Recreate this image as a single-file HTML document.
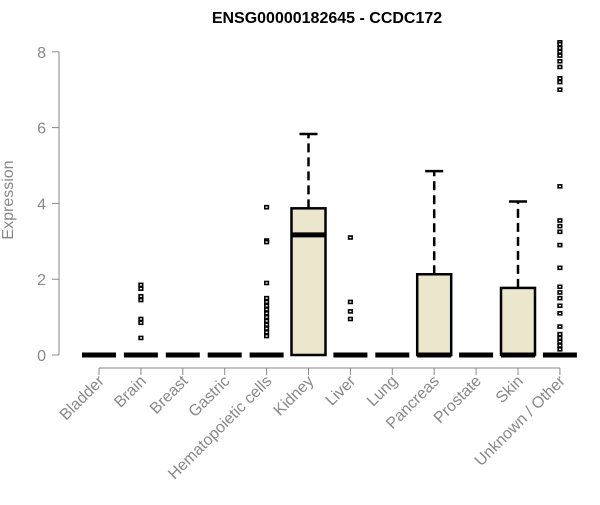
<!DOCTYPE html>
<html><head><meta charset="utf-8"><style>
body{margin:0;background:#fff}
svg{font-family:"Liberation Sans",sans-serif}
</style></head><body>
<svg id="chart" width="600" height="500" viewBox="0 0 600 500">
<text x="327" y="23" text-anchor="middle" font-weight="bold" font-size="16">ENSG00000182645 - CCDC172</text>
<text transform="translate(13,200) rotate(-90)" text-anchor="middle" font-size="16" fill="#888">Expression</text>
<g id="axes"></g><g id="marks"></g>
</svg>
<script>
const categories=["Bladder","Brain","Breast","Gastric","Hematopoietic cells","Kidney","Liver","Lung","Pancreas","Prostate","Skin","Unknown / Other"];
const q1=[0,0,0,0,0,0,0,0,0,0,0,0];
const medians=[0,0,0,0,0,3.17,0,0,0,0,0,0];
const q3=[0,0,0,0,0,3.87,0,0,2.13,0,1.77,0];
const whiskerHigh=[0,0,0,0,0,5.83,0,0,4.85,0,4.05,0];
const outliers=[[],[1.85,1.75,1.55,1.45,0.95,0.85,0.45],[],[],[3.9,3.02,2.98,1.9,1.5,1.4,1.3,1.2,1.1,1.0,0.9,0.8,0.7,0.6,0.5],[],[3.1,1.4,1.15,0.95],[],[],[],[],[8.25,8.2,8.1,8.0,7.9,7.75,7.6,7.3,7.2,7.0,4.45,3.55,3.4,3.25,2.9,2.3,1.8,1.65,1.5,1.3,1.1,0.75,0.55,0.45,0.35,0.25,0.15]];
const yTicks=[0,2,4,6,8];
const NS="http://www.w3.org/2000/svg";
const xs=i=>99+i*41.9, ys=v=>355-v*37.9;
function el(t,a,p){const e=document.createElementNS(NS,t);for(const k in a)e.setAttribute(k,a[k]);p.appendChild(e);return e;}
const ax=document.getElementById('axes'),mk=document.getElementById('marks');
let l=el('line',{x1:59,x2:59,y1:ys(0),y2:ys(8),stroke:'#888'},ax);


yTicks.forEach(v=>{
 let t=el('line',{x1:52,x2:59,y1:ys(v),y2:ys(v),stroke:'#888'},ax);
 
 
 let tx=el('text',{x:46,y:ys(v)+6,'text-anchor':'end','font-size':16,fill:'#888'},ax);tx.textContent=v;
 
 
});
l=el('line',{x1:xs(0),x2:xs(11),y1:368,y2:368,stroke:'#888'},ax);


categories.forEach((c,i)=>{
 const x=xs(i);
 let t=el('line',{x1:x,x2:x,y1:368,y2:375,stroke:'#888'},ax);
 
 
 let tx=el('text',{transform:`translate(${x+6},${382}) rotate(-45)`,'text-anchor':'end','font-size':16,fill:'#888'},ax);tx.textContent=c;
 
 
 const g=el('g',{},mk);
 
 
 if(whiskerHigh[i]>q3[i]){
  el('line',{x1:x,x2:x,y1:ys(q3[i]),y2:ys(whiskerHigh[i]),stroke:'#000','stroke-width':2.5,'stroke-dasharray':'9 5'},g);
  el('line',{x1:x-9,x2:x+9,y1:ys(whiskerHigh[i]),y2:ys(whiskerHigh[i]),stroke:'#000','stroke-width':2.5},g);
 }
 if(q3[i]>q1[i]) el('rect',{x:x-17,y:ys(q3[i]),width:34,height:ys(q1[i])-ys(q3[i]),fill:'#ECE6CD',stroke:'#000','stroke-width':2.5},g);
 el('line',{x1:x-17,x2:x+17,y1:ys(medians[i]),y2:ys(medians[i]),stroke:'#000','stroke-width':5},g);
 outliers[i].forEach(v=>{
  let p=el('rect',{x:x-1.8,y:ys(v)-1.5,width:3.6,height:3,fill:'#fff',stroke:'#000','stroke-width':1.6},g);
  
  
 });
});
</script>
</body></html>
